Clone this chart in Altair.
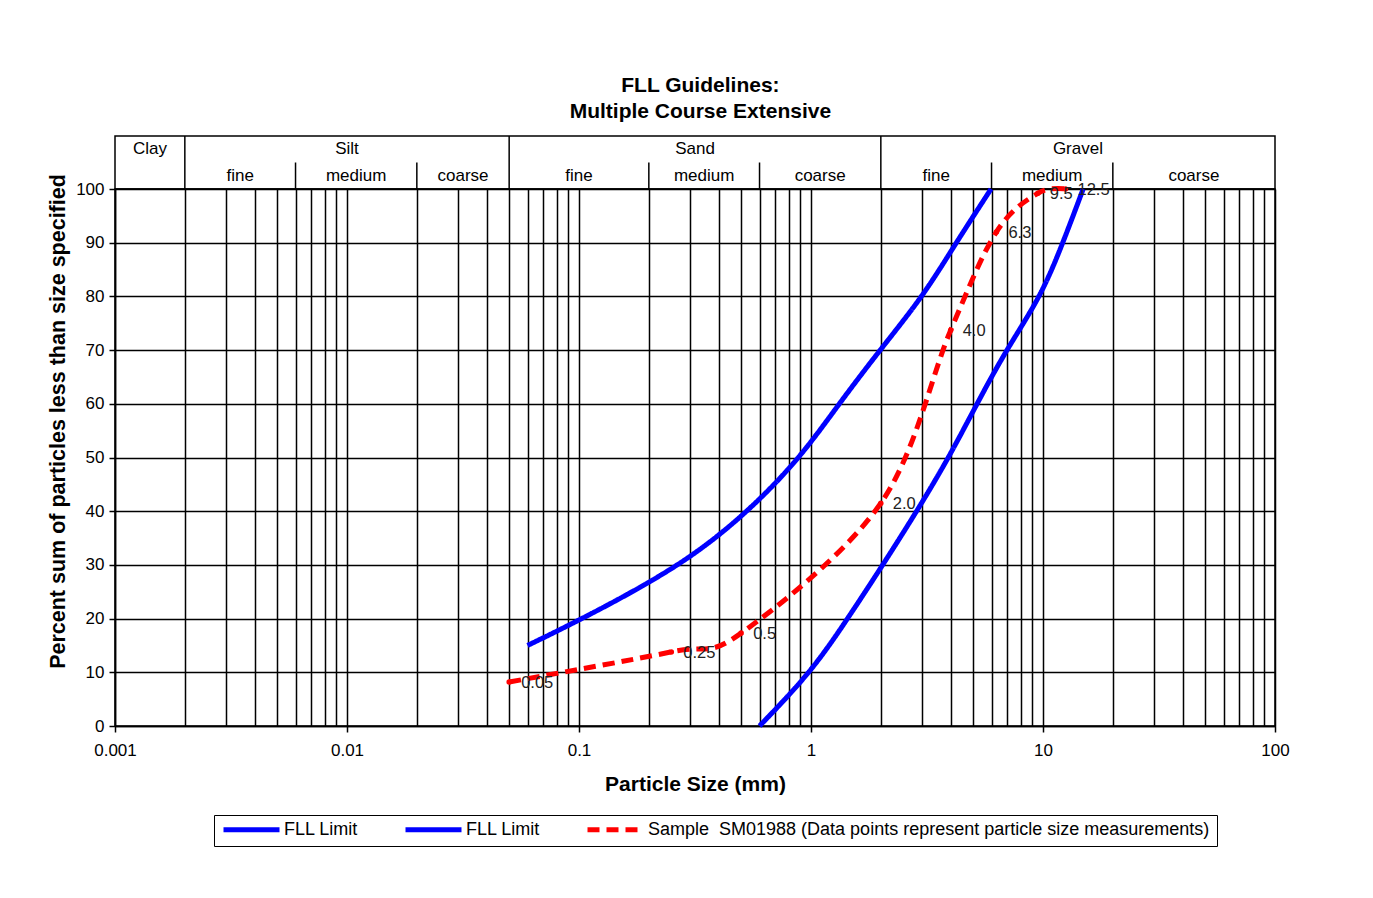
import math
import altair as alt
import pandas as pd

# ---------------- data ----------------
lower_size = [0.06, 0.104, 0.28, 0.54, 0.9, 1.32, 1.98, 3.04, 4.22, 5.97]
lower_pct = [15, 20, 30, 40, 50, 60, 70, 80, 90, 100]

upper_size = [0.6, 1.0, 1.44, 2.04, 2.86, 3.93, 5.19, 6.93, 9.8, 12.2, 14.9]
upper_pct = [0, 10, 20, 30, 40, 50, 60, 70, 80, 90, 100]

sample_size = [0.05, 0.25, 0.5, 2.0, 4.0, 6.3, 9.5, 12.5]
sample_pct = [8.2, 13.8, 17.3, 41.5, 73.7, 92, 99.2, 100]
sample_labels = ["0.05", "0.25", "0.5", "2.0", "4.0", "6.3", "9.5", "12.5"]

series_names = [
    "FLL Limit 1",
    "FLL Limit 2",
    "Sample\u00a0 SM01988 (Data points represent particle size measurements)",
]

main_classes = ["Clay", "Silt", "Sand", "Gravel"]
main_bounds = [0.001, 0.002, 0.05, 2, 100]
sub_classes = ["fine", "medium", "coarse", "fine", "medium", "coarse", "fine", "medium", "coarse"]
sub_bounds = [0.002, 0.006, 0.02, 0.05, 0.2, 0.6, 2, 6, 20, 100]

y_ticks = list(range(0, 101, 10))
x_major = [0.001, 0.01, 0.1, 1, 10, 100]
x_grid = [round(m * 10.0 ** k, 6) for k in range(-3, 2) for m in range(1, 10)] + [100]

FONT = "Liberation Sans"

# ---------------- tables ----------------
limit_rows = []
for s, p in zip(lower_size, lower_pct):
    limit_rows.append({"series": series_names[0], "size": s, "pct": p})
for s, p in zip(upper_size, upper_pct):
    limit_rows.append({"series": series_names[1], "size": s, "pct": p})
limits_df = pd.DataFrame(limit_rows)

sample_df = pd.DataFrame({"series": series_names[2], "size": sample_size,
                          "pct": sample_pct, "label": sample_labels})

hdr_text = []
for i, n in enumerate(main_classes):
    hdr_text.append({"name": n, "mid": math.sqrt(main_bounds[i] * main_bounds[i + 1]), "row": 1.5})
for i, n in enumerate(sub_classes):
    hdr_text.append({"name": n, "mid": math.sqrt(sub_bounds[i] * sub_bounds[i + 1]), "row": 0.5})
hdr_text_df = pd.DataFrame(hdr_text)

hdr_rules = []
for b in main_bounds[1:-1]:
    hdr_rules.append({"b": b, "y0": 0, "y1": 2})
for b in sub_bounds[1:-1]:
    if b not in main_bounds:
        hdr_rules.append({"b": b, "y0": 0, "y1": 1})
hdr_rules_df = pd.DataFrame(hdr_rules)

# ---------------- scales ----------------
x_scale = alt.Scale(type="log", domain=[0.001, 100], nice=False)
y_scale = alt.Scale(domain=[0, 100], nice=False)
row_scale = alt.Scale(domain=[0, 2], nice=False)

major_list = "[" + ",".join(str(v) for v in x_major) + "]"
is_major = f"indexof({major_list}, datum.value) >= 0"

x_axis = alt.Axis(
    values=x_grid,
    grid=True, gridColor="black", gridWidth=1.5, gridOpacity=1,
    labelExpr=f"{is_major} ? format(datum.value, '~g') : ''",
    tickOpacity={"condition": {"test": is_major, "value": 1}, "value": 0},
    tickColor="black", tickSize=6, tickWidth=1.5,
    domainColor="black", domainWidth=1.5,
    labelFontSize=17, labelColor="black", labelPadding=10,
    labelOverlap=False, labelFlush=False, labelBound=False,
    title="Particle Size (mm)", titleFontSize=21, titleFontWeight="bold",
    titleColor="black", titlePadding=15,
)

y_axis = alt.Axis(
    values=y_ticks,
    grid=True, gridColor="black", gridWidth=1.5, gridOpacity=1,
    tickColor="black", tickSize=6, tickWidth=1.5,
    domainColor="black", domainWidth=1.5,
    labelFontSize=17, labelColor="black", labelPadding=5,
    title="Percent sum of particles less than size specified",
    titleFontSize=21.5, titleFontWeight="bold", titleColor="black",
    titlePadding=6, titleY=232,
)

# ---------------- header band ----------------
hdr_rules_layer = alt.Chart(hdr_rules_df).mark_rule(color="black", strokeWidth=1.5).encode(
    x=alt.X("b:Q", scale=x_scale, axis=None),
    y=alt.Y("y0:Q", scale=row_scale, axis=None),
    y2="y1:Q",
)
hdr_text_layer = alt.Chart(hdr_text_df).mark_text(
    fontSize=17, color="black", baseline="middle", align="center"
).encode(
    x=alt.X("mid:Q", scale=x_scale, axis=None),
    y=alt.Y("row:Q", scale=row_scale, axis=None),
    text="name:N",
)
header = alt.layer(hdr_rules_layer, hdr_text_layer).properties(width=1160, height=53)

# ---------------- main plot ----------------
legend = alt.Legend(
    orient="none", legendX=99, legendY=679, direction="horizontal", title=None,
    symbolType="stroke", symbolSize=3136, clipHeight=15,
    labelFontSize=18, labelColor="black",
    labelExpr="indexof(datum.label, 'FLL Limit') == 0 ? 'FLL Limit' : datum.label",
    columnPadding=44, padding=7, strokeColor="black", fillColor="white",
    labelLimit=0, labelOffset=2,
)

color_enc = alt.Color("series:N", scale=alt.Scale(domain=series_names,
                                                   range=["#0000ff", "#0000ff", "#ff0000"]),
                      legend=legend)
dash_enc = alt.StrokeDash("series:N", scale=alt.Scale(domain=series_names,
                                                     range=[[1, 0], [1, 0], [12, 7]]))
width_enc = alt.StrokeWidth("series:N", scale=alt.Scale(domain=series_names,
                                                       range=[5, 5, 3]))

limit_lines = alt.Chart(limits_df).mark_line(interpolate="basis").encode(
    x=alt.X("size:Q", scale=x_scale, axis=x_axis),
    y=alt.Y("pct:Q", scale=y_scale, axis=y_axis),
    color=color_enc, strokeDash=dash_enc, strokeWidth=width_enc,
)

sample_line = alt.Chart(sample_df).mark_line(interpolate="cardinal", tension=0).encode(
    x=alt.X("size:Q", scale=x_scale),
    y=alt.Y("pct:Q", scale=y_scale),
    color=color_enc, strokeDash=dash_enc, strokeWidth=width_enc,
)

points = alt.Chart(sample_df).mark_point(filled=True, color="#ff0000", size=30, opacity=1).encode(
    x=alt.X("size:Q", scale=x_scale),
    y=alt.Y("pct:Q", scale=y_scale),
)

labels = alt.Chart(sample_df).mark_text(
    align="left", baseline="middle", dx=12, dy=1, fontSize=16.5, color="#222222"
).encode(
    x=alt.X("size:Q", scale=x_scale),
    y=alt.Y("pct:Q", scale=y_scale),
    text="label:N",
)

main = alt.layer(limit_lines, sample_line, points, labels).properties(width=1160, height=537)

chart = alt.vconcat(header, main, spacing=0, bounds="flush").properties(
    title=alt.TitleParams(
        ["FLL Guidelines:", "Multiple Course Extensive"],
        fontSize=21, fontWeight="bold", color="black", anchor="middle",
        lineHeight=26, offset=13, dx=32, font=FONT,
    ),
    padding={"left": 38, "top": 66, "right": 5, "bottom": 5},
).configure(font=FONT).configure_view(stroke="black", strokeWidth=1.5)

chart.save("out.html", embed_options={"renderer": "svg", "actions": False})
